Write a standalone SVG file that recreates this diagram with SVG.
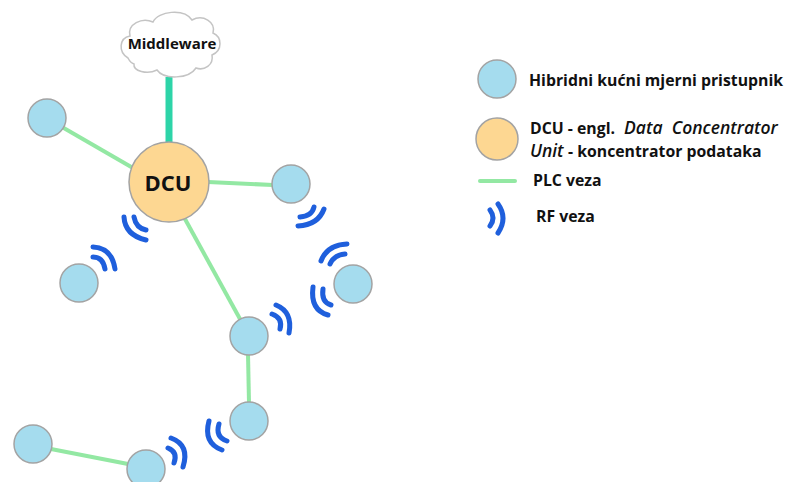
<svg xmlns="http://www.w3.org/2000/svg" width="785" height="482" viewBox="0 0 785 482">
<style>
text{font-family:"Open Sans","Noto Sans","Liberation Sans",sans-serif;font-weight:700;fill:#111}
.meter{fill:#a5dcee;stroke:#a3a3a3;stroke-width:1.5}
.dcu{fill:#fdd792;stroke:#a3a3a3;stroke-width:1.5}
.plc{stroke:#93e8a3;stroke-width:4;fill:none}
.rf{stroke:#1f5fdc;stroke-width:5;fill:none;stroke-linecap:round}
.lg{font-size:15.8px}
.it{font-style:italic;font-weight:600;font-size:17.5px}
</style>
<rect width="785" height="482" fill="#fff"/>
<g id="connectors">
<line x1="169" y1="77" x2="169" y2="143" stroke="#2dd4a8" stroke-width="7"/>
<line class="plc" x1="62" y1="127" x2="133" y2="168"/>
<line class="plc" x1="208" y1="182" x2="273" y2="185"/>
<line class="plc" x1="185" y1="219" x2="240" y2="319"/>
<line class="plc" x1="248" y1="354" x2="249" y2="403"/>
<line class="plc" x1="51" y1="449" x2="128" y2="464"/>
<path class="plc" d="M480 181H515" stroke-linecap="round"/>
</g>
<g id="rf-links">
<path class="rf" d="M134 217Q136 228 146 230"/>
<path class="rf" d="M124 217Q125 235 146 240"/>
<path class="rf" d="M93 247Q112 248 115 269"/>
<path class="rf" d="M93 257Q103 257 105 269"/>
<path class="rf" d="M314 207Q312 216 300 217"/>
<path class="rf" d="M324 209Q318 225 298 226"/>
<path class="rf" d="M347 244Q327 245 321 261"/>
<path class="rf" d="M345 254Q334 255 330 264"/>
<path class="rf" d="M313 287Q310 310 328 315"/>
<path class="rf" d="M323 289Q321 302 331 305"/>
<path class="rf" d="M276 305Q293 312 289 333"/>
<path class="rf" d="M272 314Q283 318 280 329"/>
<path class="rf" d="M209 421Q203 443 222 450"/>
<path class="rf" d="M219 424Q215 437 227 441"/>
<path class="rf" d="M171 438Q190 445 183 467"/>
<path class="rf" d="M168 448Q178 452 174 463"/>
<path class="rf" d="M498 204Q508 218 498 233"/>
<path class="rf" d="M490 210Q496 218 490 226"/>
</g>
<g id="middleware">
<path d="M128 58C118 52 119 38 130 36C127 24 142 17 153 22C158 11 184 8 192 20C203 14 216 22 213 33C222 37 223 50 212 55C214 65 204 71 196 68C189 79 164 80 157 70C147 75 133 71 134 64C131 63 129 60 128 58Z" fill="#fff" stroke="#c4c4c4" stroke-width="1.5"/>
<text x="172" y="49" text-anchor="middle" font-size="15">Middleware</text>
</g>
<g id="dcu"><circle class="dcu" cx="169" cy="182" r="40"/><text x="168" y="191" text-anchor="middle" font-size="22">DCU</text></g>
<g id="node-1"><circle class="meter" cx="47" cy="118" r="19"/></g>
<g id="node-2"><circle class="meter" cx="291" cy="184" r="19"/></g>
<g id="node-3"><circle class="meter" cx="79" cy="283" r="19"/></g>
<g id="node-4"><circle class="meter" cx="353" cy="284" r="19"/></g>
<g id="node-5"><circle class="meter" cx="249" cy="336" r="19"/></g>
<g id="node-6"><circle class="meter" cx="249" cy="421" r="19"/></g>
<g id="node-7"><circle class="meter" cx="33" cy="444" r="19"/></g>
<g id="node-8"><circle class="meter" cx="146" cy="469" r="19"/></g>
<g id="legend">
<circle class="meter" cx="497" cy="79" r="19"/>
<circle class="dcu" cx="497" cy="139" r="21"/>
<text class="lg" x="529" y="86">Hibridni kućni mjerni pristupnik</text>
<text class="lg" x="530" y="134" xml:space="preserve">DCU - engl. <tspan class="it" x="624">Data  Concentrator</tspan></text>
<text class="lg" x="530" y="157"><tspan class="it">Unit </tspan><tspan x="568">- koncentrator podataka</tspan></text>
<text class="lg" x="533" y="186">PLC veza</text>
<text class="lg" x="536" y="222">RF veza</text>
</g>
</svg>
